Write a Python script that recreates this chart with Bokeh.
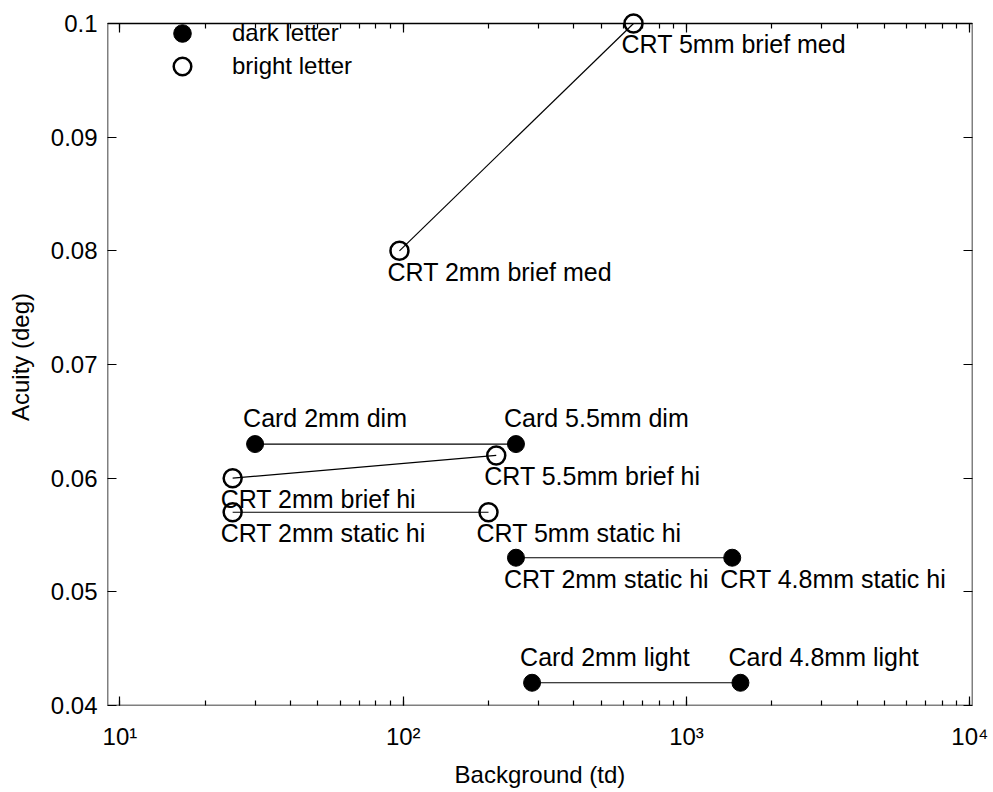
from bokeh.plotting import figure
from bokeh.models import (LogAxis, LinearAxis, Legend, LegendItem, ColumnDataSource, Range1d,
                          FixedTicker, LogTicker, BoxAnnotation)
from bokeh.core.properties import value
from bokeh.embed import file_html
from bokeh.resources import INLINE

FONT = "Liberation Sans"

# dark letter points (x: background in td, y: acuity in deg)
dark_labels = ["Card 2mm dim", "Card 5.5mm dim", "CRT 2mm static hi", "CRT 4.8mm static hi", "Card 2mm light", "Card 4.8mm light"]
dark_x = [30, 250, 250, 1450, 285, 1550]
dark_y = [0.063, 0.063, 0.053, 0.053, 0.042, 0.042]
dark_label_pos = ["above", "above", "below", "below", "above", "above"]

# bright letter points
bright_labels = ["CRT 2mm brief med", "CRT 5mm brief med", "CRT 2mm brief hi", "CRT 5.5mm brief hi", "CRT 2mm static hi", "CRT 5mm static hi"]
bright_x = [97, 650, 25, 213, 25, 200]
bright_y = [0.080, 0.100, 0.060, 0.062, 0.057, 0.057]
bright_label_pos = ["below", "below", "below", "below", "below", "below"]

x_ticks = [10, 100, 1000, 10000]
x_tick_labels = ["10\u00b9", "10\u00b2", "10\u00b3", "10\u2074"]
y_ticks = [0.04, 0.05, 0.06, 0.07, 0.08, 0.09, 0.1]
y_tick_labels = ["0.04", "0.05", "0.06", "0.07", "0.08", "0.09", "0.1"]

X_START, X_END = 9.04, 10220
Y_START, Y_TOP = 0.04, 0.1
Y_END = Y_TOP + 0.01 * 15 / 113.7   # room above the box so the top marker is not clipped

p = figure(width=993, height=792, x_axis_type="log", output_backend="svg",
           toolbar_location=None, x_range=Range1d(X_START, X_END), y_range=Range1d(Y_START, Y_END),
           min_border_left=107, min_border_right=21, min_border_top=8, min_border_bottom=87)
p.xgrid.visible = False
p.ygrid.visible = False
p.outline_line_color = None
p.background_fill_color = "white"
p.border_fill_color = "white"

# plot box
p.add_layout(BoxAnnotation(left=X_START, right=X_END, bottom=Y_START, top=Y_TOP,
                           fill_color=None, fill_alpha=0, line_color="black", line_alpha=1.0,
                           line_width=1.5))

# connecting lines (pairs)
for i in range(0, 6, 2):
    p.line(dark_x[i:i+2], dark_y[i:i+2], line_color="black", line_width=1.2)
    p.line(bright_x[i:i+2], bright_y[i:i+2], line_color="black", line_width=1.2)

r_dark = p.scatter(dark_x, dark_y, marker="circle", size=17, fill_color="black", line_color="black")
r_bright = p.scatter(bright_x, bright_y, marker="circle", size=18, fill_color=None, line_color="black", line_width=2.5)

def add_labels(xs, ys, labels, pos):
    for where, baseline, yoff in (("above", "alphabetic", -26), ("below", "top", 7)):
        sel = [i for i, q in enumerate(pos) if q == where]
        if not sel:
            continue
        src = ColumnDataSource(dict(x=[xs[i] for i in sel], y=[ys[i] for i in sel], t=[labels[i] for i in sel]))
        p.text(x="x", y="y", text="t", source=src, text_font=value(FONT), text_font_size="25px",
               text_baseline=baseline, text_align="left", x_offset=-12, y_offset=yoff, text_color="black")

add_labels(dark_x, dark_y, dark_labels, dark_label_pos)
add_labels(bright_x, bright_y, bright_labels, bright_label_pos)

def style_axis(ax):
    ax.major_tick_in = 9
    ax.major_tick_out = 0
    ax.minor_tick_in = 5
    ax.minor_tick_out = 0
    ax.axis_line_color = None
    ax.major_tick_line_color = "black"
    ax.minor_tick_line_color = "black"
    ax.major_tick_line_width = 1.2
    ax.minor_tick_line_width = 1.2
    ax.major_label_text_font = FONT
    ax.major_label_text_font_size = "24px"
    ax.major_label_text_color = "black"
    ax.axis_label_text_font = FONT
    ax.axis_label_text_font_size = "24px"
    ax.axis_label_text_font_style = "normal"
    ax.axis_label_text_color = "black"

xa = p.xaxis[0]
xa.ticker = LogTicker(desired_num_ticks=4, num_minor_ticks=10)
xa.major_label_overrides = {v: s for v, s in zip(x_ticks, x_tick_labels)}
xa.axis_label = "Background (td)"
style_axis(xa)
xa.major_label_standoff = 17
xa.axis_label_standoff = 8

ya = p.yaxis[0]
ya.ticker = FixedTicker(ticks=y_ticks, minor_ticks=[])
ya.major_label_overrides = {v: s for v, s in zip(y_ticks, y_tick_labels)}
ya.axis_label = "Acuity (deg)"
style_axis(ya)
ya.major_label_standoff = 10
ya.axis_label_standoff = 14

top = LogAxis(ticker=LogTicker(desired_num_ticks=4, num_minor_ticks=10), fixed_location=Y_TOP)
style_axis(top)
top.major_label_text_font_size = "1px"
top.major_label_text_alpha = 0
top.major_label_standoff = 0
p.add_layout(top, "above")

right = LinearAxis(ticker=FixedTicker(ticks=y_ticks, minor_ticks=[]))
style_axis(right)
right.major_label_text_font_size = "1px"
right.major_label_text_alpha = 0
right.major_label_standoff = 0
p.add_layout(right, "right")

legend_style = dict(border_line_color=None, background_fill_alpha=0,
                    label_text_font=FONT, label_text_font_size="24px", label_text_color="black",
                    glyph_width=44, glyph_height=44, spacing=0, label_standoff=28,
                    padding=0, margin=0, label_height=28)
p.add_layout(Legend(items=[LegendItem(label="dark letter", renderers=[r_dark])],
                    location=(53, 650), **legend_style))
p.add_layout(Legend(items=[LegendItem(label="bright letter", renderers=[r_bright])],
                    location=(53, 617), **legend_style))

open("out.html", "w").write(file_html(p, INLINE))
